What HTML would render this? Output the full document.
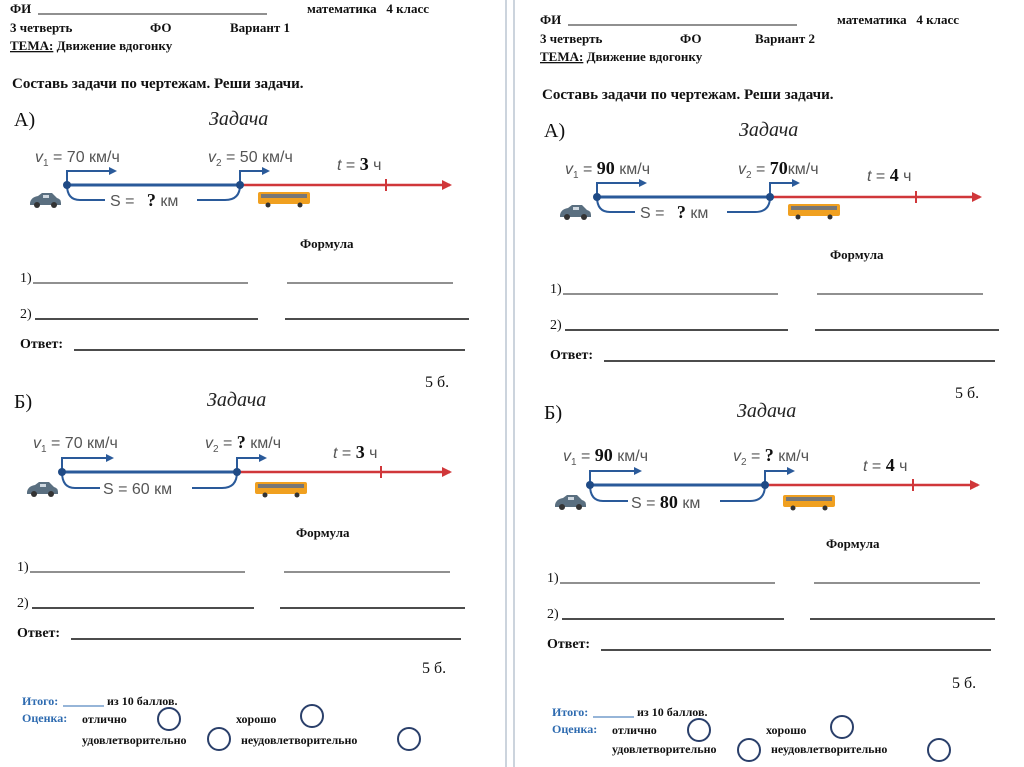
<!DOCTYPE html>
<html><head><meta charset="utf-8">
<style>
body{margin:0;background:#fff;width:1024px;height:767px;overflow:hidden}
svg{display:block}
.h{font:bold 13px "Liberation Serif","Noto Serif CJK SC",serif;fill:#111}
.b{font:bold 15px "Liberation Serif","Noto Serif CJK SC",serif;fill:#111}
.big{font:20px "Liberation Serif","Noto Serif CJK SC",serif;fill:#111}
.it{font:italic 20px "Liberation Serif","Noto Serif CJK SC",serif;fill:#222}
.d{font:16px "Liberation Sans","Noto Sans CJK SC",sans-serif;fill:#555}
.dn{font:bold 18px "Liberation Serif","Noto Serif CJK SC",serif;fill:#111}
.s{font:14px "Liberation Serif","Noto Serif CJK SC",serif;fill:#111}
.blue{font:bold 12px "Liberation Serif","Noto Serif CJK SC",serif;fill:#2e6bb0}
.sm{font:bold 12px "Liberation Serif","Noto Serif CJK SC",serif;fill:#111}
.u{stroke:#222;stroke-width:1}
.u2{stroke:#111;stroke-width:1.6}
</style></head><body>
<svg width="1024" height="767" viewBox="0 0 1024 767">
<defs>
<marker id="ab" markerWidth="8" markerHeight="8" refX="6" refY="4" orient="auto" markerUnits="userSpaceOnUse"><path d="M0,0 L8,4 L0,8z" fill="#2a5a9a"/></marker>
<marker id="ar" markerWidth="10" markerHeight="10" refX="8" refY="5" orient="auto" markerUnits="userSpaceOnUse"><path d="M0,0 L10,5 L0,10z" fill="#d0373a"/></marker>
<g id="car"><path d="M0,10 Q1,4 8,3 L12,0 L22,0 L27,5 Q31,6 31,10 L31,12 L0,12z" fill="#5a6f80"/><circle cx="7" cy="12" r="3" fill="#333"/><circle cx="24" cy="12" r="3" fill="#333"/><rect x="13" y="2" width="6" height="3" fill="#cfd8e0"/></g>
<g id="bus"><rect x="0" y="0" width="52" height="12" rx="2" fill="#f0a020"/><rect x="3" y="2" width="46" height="4" fill="#777"/><circle cx="10" cy="13" r="2.5" fill="#333"/><circle cx="42" cy="13" r="2.5" fill="#333"/></g>
</defs>
<line x1="506" y1="0" x2="506" y2="767" stroke="#9ab" stroke-width="1"/>
<line x1="514" y1="0" x2="514" y2="767" stroke="#9ab" stroke-width="1"/>

<!-- LEFT PANEL -->
<g>
<text class="h" x="10" y="13">ФИ</text>
<line class="u" x1="38" y1="14" x2="267" y2="14"/>
<text class="h" x="307" y="13">математика&#160;&#160;&#160;4 класс</text>
<text class="h" x="10" y="32">3 четверть</text>
<text class="h" x="150" y="32">ФО</text>
<text class="h" x="230" y="32">Вариант 1</text>
<text class="h" x="10" y="50"><tspan text-decoration="underline">ТЕМА:</tspan> Движение вдогонку</text>
<text class="b" x="12" y="88">Составь задачи по чертежам. Реши задачи.</text>

<text class="big" x="14" y="126">А)</text>
<text class="it" x="209" y="125">Задача</text>
<g>
<line x1="67" y1="185" x2="240" y2="185" stroke="#2a5a9a" stroke-width="3"/>
<line x1="240" y1="185" x2="450" y2="185" stroke="#d0373a" stroke-width="2.5" marker-end="url(#ar)"/>
<line x1="386" y1="179" x2="386" y2="191" stroke="#d0373a" stroke-width="2"/>
<path d="M67,185 V171 H115" fill="none" stroke="#2a5a9a" stroke-width="2" marker-end="url(#ab)"/>
<path d="M240,185 V171 H268" fill="none" stroke="#2a5a9a" stroke-width="2" marker-end="url(#ab)"/>
<path d="M67,185 Q67,200 80,200 H225 Q240,200 240,185" fill="none" stroke="#2a5a9a" stroke-width="2"/>
<circle cx="67" cy="185" r="4" fill="#1f4a85"/><circle cx="240" cy="185" r="4" fill="#1f4a85"/>
<rect x="105" y="192" width="92" height="16" fill="#fff"/>
<text class="d" x="35" y="162"><tspan font-style="italic">v</tspan><tspan font-size="10" dy="4">1</tspan><tspan dy="-4"> = 70 км/ч</tspan></text>
<text class="d" x="208" y="162"><tspan font-style="italic">v</tspan><tspan font-size="10" dy="4">2</tspan><tspan dy="-4"> = 50 км/ч</tspan></text>
<text class="d" x="337" y="170"><tspan font-style="italic">t</tspan> = <tspan class="dn">3</tspan> ч</text>
<text class="d" x="110" y="206">S = <tspan class="dn" dx="8">?</tspan> км</text>
<use href="#car" x="30" y="193"/><use href="#bus" x="258" y="192"/>
</g>
<text class="sm" x="300" y="248" style="font-size:13px">Формула</text>
<text class="s" x="20" y="282">1)</text><line class="u" x1="33" y1="283" x2="248" y2="283"/><line class="u" x1="287" y1="283" x2="453" y2="283"/>
<text class="s" x="20" y="318" font-family="Liberation Sans" font-weight="bold">2)</text><line class="u2" x1="35" y1="319" x2="258" y2="319"/><line class="u2" x1="285" y1="319" x2="469" y2="319"/>
<text class="b" x="20" y="348" style="font-size:14px">Ответ:</text><line class="u2" x1="74" y1="350" x2="465" y2="350"/>
<text class="s" x="425" y="387" style="font-size:16px">5 б.</text>

<text class="big" x="14" y="408">Б)</text>
<text class="it" x="207" y="406">Задача</text>
<g>
<line x1="62" y1="472" x2="237" y2="472" stroke="#2a5a9a" stroke-width="3"/>
<line x1="237" y1="472" x2="450" y2="472" stroke="#d0373a" stroke-width="2.5" marker-end="url(#ar)"/>
<line x1="381" y1="466" x2="381" y2="478" stroke="#d0373a" stroke-width="2"/>
<path d="M62,472 V458 H112" fill="none" stroke="#2a5a9a" stroke-width="2" marker-end="url(#ab)"/>
<path d="M237,472 V458 H265" fill="none" stroke="#2a5a9a" stroke-width="2" marker-end="url(#ab)"/>
<path d="M62,472 Q62,488 75,488 H222 Q237,488 237,472" fill="none" stroke="#2a5a9a" stroke-width="2"/>
<circle cx="62" cy="472" r="4" fill="#1f4a85"/><circle cx="237" cy="472" r="4" fill="#1f4a85"/>
<rect x="100" y="480" width="92" height="16" fill="#fff"/>
<text class="d" x="33" y="448"><tspan font-style="italic">v</tspan><tspan font-size="10" dy="4">1</tspan><tspan dy="-4"> = 70 км/ч</tspan></text>
<text class="d" x="205" y="448"><tspan font-style="italic">v</tspan><tspan font-size="10" dy="4">2</tspan><tspan dy="-4"> = </tspan><tspan class="dn">?</tspan> км/ч</text>
<text class="d" x="333" y="458"><tspan font-style="italic">t</tspan> = <tspan class="dn">3</tspan> ч</text>
<text class="d" x="103" y="494">S = 60 км</text>
<use href="#car" x="27" y="482"/><use href="#bus" x="255" y="482"/>
</g>
<text class="sm" x="296" y="537" style="font-size:13px">Формула</text>
<text class="s" x="17" y="571">1)</text><line class="u" x1="30" y1="572" x2="245" y2="572"/><line class="u" x1="284" y1="572" x2="450" y2="572"/>
<text class="s" x="17" y="607" font-family="Liberation Sans" font-weight="bold">2)</text><line class="u2" x1="32" y1="608" x2="254" y2="608"/><line class="u2" x1="280" y1="608" x2="465" y2="608"/>
<text class="b" x="17" y="637" style="font-size:14px">Ответ:</text><line class="u2" x1="71" y1="639" x2="461" y2="639"/>
<text class="s" x="422" y="673" style="font-size:16px">5 б.</text>

<text class="blue" x="22" y="705">Итого:</text><line x1="63" y1="706" x2="104" y2="706" stroke="#2e6bb0"/><text class="sm" x="107" y="705">из 10 баллов.</text>
<text class="blue" x="22" y="722">Оценка:</text>
<text class="sm" x="82" y="723">отлично</text><circle cx="169" cy="719" r="11" fill="none" stroke="#2a3f6a" stroke-width="2"/>
<text class="sm" x="236" y="723">хорошо</text><circle cx="312" cy="716" r="11" fill="none" stroke="#2a3f6a" stroke-width="2"/>
<text class="sm" x="82" y="744">удовлетворительно</text><circle cx="219" cy="739" r="11" fill="none" stroke="#2a3f6a" stroke-width="2"/>
<text class="sm" x="241" y="744">неудовлетворительно</text><circle cx="409" cy="739" r="11" fill="none" stroke="#2a3f6a" stroke-width="2"/>
</g>

<!-- RIGHT PANEL -->
<g transform="translate(530,11)">
<text class="h" x="10" y="13">ФИ</text>
<line class="u" x1="38" y1="14" x2="267" y2="14"/>
<text class="h" x="307" y="13">математика&#160;&#160;&#160;4 класс</text>
<text class="h" x="10" y="32">3 четверть</text>
<text class="h" x="150" y="32">ФО</text>
<text class="h" x="225" y="32">Вариант 2</text>
<text class="h" x="10" y="50"><tspan text-decoration="underline">ТЕМА:</tspan> Движение вдогонку</text>
<text class="b" x="12" y="88">Составь задачи по чертежам. Реши задачи.</text>

<text class="big" x="14" y="126">А)</text>
<text class="it" x="209" y="125">Задача</text>
<g>
<line x1="67" y1="186" x2="240" y2="186" stroke="#2a5a9a" stroke-width="3"/>
<line x1="240" y1="186" x2="450" y2="186" stroke="#d0373a" stroke-width="2.5" marker-end="url(#ar)"/>
<line x1="386" y1="180" x2="386" y2="192" stroke="#d0373a" stroke-width="2"/>
<path d="M67,186 V172 H115" fill="none" stroke="#2a5a9a" stroke-width="2" marker-end="url(#ab)"/>
<path d="M240,186 V172 H268" fill="none" stroke="#2a5a9a" stroke-width="2" marker-end="url(#ab)"/>
<path d="M67,186 Q67,201 80,201 H225 Q240,201 240,186" fill="none" stroke="#2a5a9a" stroke-width="2"/>
<circle cx="67" cy="186" r="4" fill="#1f4a85"/><circle cx="240" cy="186" r="4" fill="#1f4a85"/>
<rect x="105" y="193" width="92" height="16" fill="#fff"/>
<text class="d" x="35" y="163"><tspan font-style="italic">v</tspan><tspan font-size="10" dy="4">1</tspan><tspan dy="-4"> = </tspan><tspan class="dn">90</tspan> км/ч</text>
<text class="d" x="208" y="163"><tspan font-style="italic">v</tspan><tspan font-size="10" dy="4">2</tspan><tspan dy="-4"> = </tspan><tspan class="dn">70</tspan>км/ч</text>
<text class="d" x="337" y="170"><tspan font-style="italic">t</tspan> = <tspan class="dn">4</tspan> ч</text>
<text class="d" x="110" y="207">S = <tspan class="dn" dx="8">?</tspan> км</text>
<use href="#car" x="30" y="194"/><use href="#bus" x="258" y="193"/>
</g>
<text class="sm" x="300" y="248" style="font-size:13px">Формула</text>
<text class="s" x="20" y="282">1)</text><line class="u" x1="33" y1="283" x2="248" y2="283"/><line class="u" x1="287" y1="283" x2="453" y2="283"/>
<text class="s" x="20" y="318" font-family="Liberation Sans" font-weight="bold">2)</text><line class="u2" x1="35" y1="319" x2="258" y2="319"/><line class="u2" x1="285" y1="319" x2="469" y2="319"/>
<text class="b" x="20" y="348" style="font-size:14px">Ответ:</text><line class="u2" x1="74" y1="350" x2="465" y2="350"/>
<text class="s" x="425" y="387" style="font-size:16px">5 б.</text>

<text class="big" x="14" y="408">Б)</text>
<text class="it" x="207" y="406">Задача</text>
<g>
<line x1="60" y1="474" x2="235" y2="474" stroke="#2a5a9a" stroke-width="3"/>
<line x1="235" y1="474" x2="448" y2="474" stroke="#d0373a" stroke-width="2.5" marker-end="url(#ar)"/>
<line x1="383" y1="468" x2="383" y2="480" stroke="#d0373a" stroke-width="2"/>
<path d="M60,474 V460 H110" fill="none" stroke="#2a5a9a" stroke-width="2" marker-end="url(#ab)"/>
<path d="M235,474 V460 H263" fill="none" stroke="#2a5a9a" stroke-width="2" marker-end="url(#ab)"/>
<path d="M60,474 Q60,490 73,490 H220 Q235,490 235,474" fill="none" stroke="#2a5a9a" stroke-width="2"/>
<circle cx="60" cy="474" r="4" fill="#1f4a85"/><circle cx="235" cy="474" r="4" fill="#1f4a85"/>
<rect x="98" y="481" width="92" height="18" fill="#fff"/>
<text class="d" x="33" y="450"><tspan font-style="italic">v</tspan><tspan font-size="10" dy="4">1</tspan><tspan dy="-4"> = </tspan><tspan class="dn">90</tspan> км/ч</text>
<text class="d" x="203" y="450"><tspan font-style="italic">v</tspan><tspan font-size="10" dy="4">2</tspan><tspan dy="-4"> = </tspan><tspan class="dn">?</tspan>  км/ч</text>
<text class="d" x="333" y="460"><tspan font-style="italic">t</tspan> = <tspan class="dn">4</tspan> ч</text>
<text class="d" x="101" y="497">S = <tspan class="dn">80</tspan> км</text>
<use href="#car" x="25" y="484"/><use href="#bus" x="253" y="484"/>
</g>
<text class="sm" x="296" y="537" style="font-size:13px">Формула</text>
<text class="s" x="17" y="571">1)</text><line class="u" x1="30" y1="572" x2="245" y2="572"/><line class="u" x1="284" y1="572" x2="450" y2="572"/>
<text class="s" x="17" y="607" font-family="Liberation Sans" font-weight="bold">2)</text><line class="u2" x1="32" y1="608" x2="254" y2="608"/><line class="u2" x1="280" y1="608" x2="465" y2="608"/>
<text class="b" x="17" y="637" style="font-size:14px">Ответ:</text><line class="u2" x1="71" y1="639" x2="461" y2="639"/>
<text class="s" x="422" y="677" style="font-size:16px">5 б.</text>

<text class="blue" x="22" y="705">Итого:</text><line x1="63" y1="706" x2="104" y2="706" stroke="#2e6bb0"/><text class="sm" x="107" y="705">из 10 баллов.</text>
<text class="blue" x="22" y="722">Оценка:</text>
<text class="sm" x="82" y="723">отлично</text><circle cx="169" cy="719" r="11" fill="none" stroke="#2a3f6a" stroke-width="2"/>
<text class="sm" x="236" y="723">хорошо</text><circle cx="312" cy="716" r="11" fill="none" stroke="#2a3f6a" stroke-width="2"/>
<text class="sm" x="82" y="742">удовлетворительно</text><circle cx="219" cy="739" r="11" fill="none" stroke="#2a3f6a" stroke-width="2"/>
<text class="sm" x="241" y="742">неудовлетворительно</text><circle cx="409" cy="739" r="11" fill="none" stroke="#2a3f6a" stroke-width="2"/>
</g>
</svg>
</body></html>
